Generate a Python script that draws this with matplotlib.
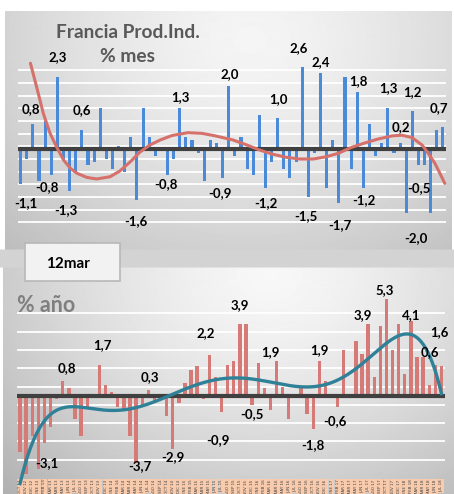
import numpy as np
import matplotlib
matplotlib.use("Agg")
import matplotlib.pyplot as plt
from matplotlib.patches import Rectangle

# ---------------- data ----------------
month_names = ["ENE", "FEB", "MAR", "ABR", "MAY", "JUN",
               "JUL", "AGO", "SEP", "OCT", "NOV", "DIC"]
start_year, start_month = 2012, 10
n_months = 70
months = [f"{month_names[(start_month - 1 + k) % 12]} {(start_year + (start_month - 1 + k) // 12) % 100:02d}"
          for k in range(n_months)]

# monthly change, %
mom = [-1.1, -0.3, 0.8, -1.0, 0.9, -0.8, 2.3, -0.3, -1.3, -0.7,
       0.6, -0.5, -0.4, 1.3, -0.3, -0.6, 0.1, -0.7, 0.4, -1.6,
       1.3, 0.4, -0.2, 0.0, -0.8, -0.3, 1.3, 0.4, 0.3, -0.1,
       -1.0, 0.3, 0.2, -0.9, 2.0, -0.2, 0.4, -0.6, -0.8, 1.1,
       -1.2, -0.4, 1.0, -0.6, -0.9, -0.4, 2.6, -1.5, -0.1, 2.4,
       -1.2, 0.3, -1.7, 2.3, -0.6, 1.8, -1.2, 0.8, -0.2, 0.2,
       1.3, -0.1, 0.2, -2.0, 1.2, -0.5, -0.5, -2.0, 0.6, 0.7]

# smoothed trend of the monthly series (position in months, value)
mom_trend_pos = [1.6, 2.6, 3.7, 4.8, 5.9, 7.0, 8.1, 9.2, 10.8, 12.4,
                 14.6, 16.2, 17.9, 19.5, 21.1, 22.8, 24.7, 27.3, 29.6, 31.8,
                 34.7, 37.0, 39.1, 41.2, 43.5, 45.6, 47.8, 49.9, 51.9, 54.1,
                 56.3, 58.4, 60.7, 62.3, 63.9, 65.6, 66.6, 67.7, 68.5, 69.3]
mom_trend = [2.72, 1.98, 1.14, 0.51, 0.07, -0.33, -0.59, -0.75, -0.88, -0.93,
             -0.86, -0.68, -0.39, -0.08, 0.14, 0.30, 0.44, 0.53, 0.51, 0.43,
             0.30, 0.14, -0.02, -0.15, -0.25, -0.30, -0.30, -0.23, -0.12, 0.07,
             0.21, 0.33, 0.43, 0.45, 0.38, 0.14, -0.12, -0.44, -0.75, -1.07]

# year-on-year change, %
yoy = [-3.1, -4.3, -2.2, -4.0, -2.6, -1.7, -0.2, 0.8, 0.4, -1.3,
       -2.2, -0.6, 0.1, 1.7, 0.6, 0.2, -0.6, -0.7, -2.2, -3.7,
       -0.5, 0.3, -0.3, 0.0, -1.1, -2.9, -0.4, 0.7, 1.4, 1.6,
       -0.2, 2.2, 1.0, -0.9, 1.7, 1.9, 3.9, 3.9, -0.5, 1.8,
       0.4, -0.8, 1.9, 0.5, -1.3, 0.0, 0.4, -1.0, -1.8, 1.9,
       0.8, 0.0, -0.6, 2.5, 0.0, 3.0, 2.3, 3.9, 1.0, 3.8,
       5.3, 2.5, 3.9, 1.2, 4.1, 2.1, 2.1, 0.6, 1.7, 1.6]

# value labels: (bar index, dx px, dy px)
mom_labels = [(0, 5, -19), (2, -2, 15), (5, -4, -12), (6, 0, 20), (8, -4, -19),
              (10, 0, 20), (19, -1, -21), (24, -2, -9), (26, 1, 11), (33, -3, -15),
              (34, 1, 12), (40, 0, -16), (42, 1, 19), (46, -4, 19), (47, -2, -19),
              (49, 0, 11), (52, 1, -22), (55, 1, 11), (56, 0, -13), (60, 1, 20),
              (62, 1, 16), (63, 10, -25), (64, 0, 19), (65, 0, -23), (69, -4, 19)]
yoy_labels = [(0, 27, -11), (7, 4, 13), (13, 3, 20), (19, 4, -3), (21, 2, 13),
              (25, 0, -8), (31, -4, 22), (33, -4, -28), (36, 0, 19), (38, 0, -9),
              (42, -6, 9), (48, 0, -16), (49, 0, 11), (52, -3, -14), (57, -5, 9),
              (60, -2, 9), (64, 0, 6), (67, 1, 33), (69, -2, 34)]

W, H = 454, 494
fig = plt.figure(figsize=(W / 100, H / 100), dpi=100)
fig.patch.set_facecolor("white")

# ---------------- panel backgrounds ----------------
bg = fig.add_axes([0, 0, 1, 1])
bg.set_axis_off()
yy, xx = np.mgrid[0:H, 0:W].astype(float)
shade = np.ones((H, W))
top_zone = (yy >= 12) & (yy < 250) & (xx >= 5) & (xx < 452)
d1 = np.hypot((xx - 250) / 320, (yy - 40) / 260)
shade[top_zone] = (0.96 - 0.19 * np.clip(d1, 0, 1.2) ** 1.4)[top_zone]
band = (yy >= 250) & (yy < 268)
shade[band] = 0.83
bot_zone = (yy >= 268) & (xx >= 3)
d2 = np.hypot((xx - 270) / 320, (yy - 275) / 260)
shade[bot_zone] = (0.97 - 0.22 * np.clip(d2, 0, 1.2) ** 1.4)[bot_zone]
bg.imshow(shade, cmap="gray", vmin=0, vmax=1, extent=(0, W, H, 0),
          aspect="auto", interpolation="bilinear")
bg.set_xlim(0, W)
bg.set_ylim(H, 0)


def px_axes(left, top, right, bottom):
    return fig.add_axes([left / W, 1 - bottom / H, (right - left) / W, (bottom - top) / H])


def style(ax, grid_vals):
    ax.patch.set_alpha(0)
    for s in ax.spines.values():
        s.set_visible(False)
    ax.set_yticks(grid_vals)
    ax.tick_params(length=0, labelleft=False)
    ax.yaxis.grid(True, color="white", lw=1.3)
    ax.set_axisbelow(True)


def fmt(v):
    return f"{v:.1f}".replace(".", ",")


label_font = dict(family="Lato", weight="bold", size=9.5, color="black")
idx = np.arange(n_months)
xs = np.linspace(0, n_months - 1, 400)

# ---------------- top: monthly ----------------
ax1 = px_axes(17.6, 50, 446, 240)
ax1.set_xlim(-0.5, n_months - 0.5)
ax1.set_ylim(-(240 - 149.5) / 31.7, (149.5 - 50) / 31.7)
style(ax1, np.arange(-2.3, 2.55, 0.4))
ax1.tick_params(labelbottom=False)
ax1.bar(idx, mom, width=0.5, color="#4a8ad8", zorder=2)
ax1.axhline(0, color="#404040", lw=3.0, zorder=3)
ax1.plot(mom_trend_pos, mom_trend, color="#d6706b", lw=2.2, zorder=4,
         clip_on=False, solid_joinstyle="round", solid_capstyle="round")
for i, dx, dy in mom_labels:
    ax1.annotate(fmt(mom[i]), (i, mom[i]), xytext=(dx, dy), textcoords="offset pixels",
                 ha="center", va="center", zorder=5, **label_font)

# ---------------- bottom: yearly ----------------
ax2 = px_axes(17, 280, 444.5, 474)
ax2.set_xlim(-0.5, n_months - 0.5)
ax2.set_ylim(-(474 - 395.7) / 18.3, (395.7 - 280) / 18.3)
style(ax2, np.arange(-3.5, 4.6, 1.0))
ax2.bar(idx, yoy, width=0.55, color="#d57a77", zorder=2)
ax2.axhline(0, color="#404040", lw=3.0, zorder=3)
c2 = np.polyfit(idx, yoy, 6)
ax2.plot(xs, np.polyval(c2, xs), color="#2f8198", lw=2.4, zorder=4, clip_on=False)
for i, dx, dy in yoy_labels:
    ax2.annotate(fmt(yoy[i]), (i, yoy[i]), xytext=(dx, dy), textcoords="offset pixels",
                 ha="center", va="center", zorder=5, **label_font)
ax2.set_xticks(idx)
ax2.set_xticklabels(months, rotation=90, fontsize=2.9, color="#404040",
                    bbox=dict(facecolor="#f8cbad", edgecolor="none", pad=0.7))
ax2.tick_params(axis="x", pad=4)

# ---------------- titles ----------------
title_font = dict(family="Lato", weight="bold", color="#595959")
fig.text(128 / W, 1 - 32 / H, "Francia Prod.Ind.", ha="center", va="center", size=13.8, **title_font)
fig.text(128 / W, 1 - 57 / H, "% mes", ha="center", va="center", size=13.8, **title_font)
fig.text(46 / W, 1 - 305 / H, "% año", ha="center", va="center", size=15.5,
         family="Lato", weight="bold", color="#7f7f7f")

box = Rectangle((25 / W, 1 - 281 / H), 95 / W, 38 / H, transform=fig.transFigure,
                facecolor="#f2f2f2", edgecolor="#b8b8b8", lw=1.2, zorder=6)
fig.add_artist(box)
fig.text(68 / W, 1 - 264 / H, "12mar", ha="center", va="center", size=11,
         family="Lato", weight="bold", color="black", zorder=7)

fig.savefig("out.png", dpi=100)
